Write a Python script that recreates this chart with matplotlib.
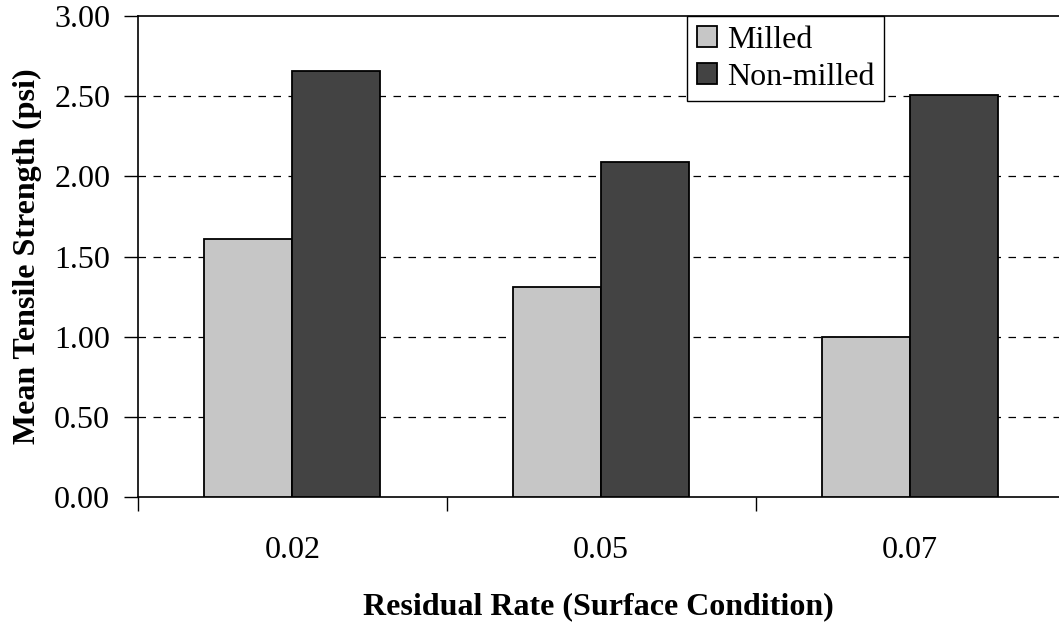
import numpy as np
import matplotlib.pyplot as plt
from matplotlib.ticker import FixedLocator, NullFormatter

# residual rate groups and mean tensile strength (psi)
rates = ["0.02", "0.05", "0.07"]
milled = [1.61, 1.31, 1.00]
non_milled = [2.66, 2.09, 2.51]
yticks = [0.0, 0.5, 1.0, 1.5, 2.0, 2.5, 3.0]

plt.rcParams["font.family"] = ["Liberation Serif", "DejaVu Serif"]

fig = plt.figure(figsize=(10.59, 6.25), dpi=100)
# left 138 px, bottom 497 px, top 16 px; the right side runs off the figure
ax = fig.add_axes([138 / 1059, (625 - 497) / 625, (1059 - 138) / 1059, (497 - 16) / 625])

x = np.arange(len(rates))
w = 0.285
ax.bar(x - w / 2, milled, w, color="#c6c6c6", edgecolor="black", linewidth=1.3,
       label="Milled", zorder=3)
ax.bar(x + w / 2, non_milled, w, color="#434343", edgecolor="black", linewidth=1.3,
       label="Non-milled", zorder=3)

ax.set_xlim(-0.5, 2 + 149 / 309)
ax.set_ylim(0, 3)

# dashed grid at every 0.5 below the top border
for y in yticks[1:-1]:
    ax.axhline(y, color="black", linestyle=(0, (6, 6)), linewidth=0.9, zorder=1)

ax.set_yticks(yticks)
ax.set_yticklabels(["%.2f" % v for v in yticks], fontsize=23)
ax.tick_params(axis="y", direction="out", length=10, width=1, pad=10)

# category separators as major ticks, labels on minor ticks at group centres
ax.xaxis.set_major_locator(FixedLocator([-0.5, 0.5, 1.5]))
ax.xaxis.set_major_formatter(NullFormatter())
ax.xaxis.set_minor_locator(FixedLocator(x))
ax.set_xticklabels(rates, minor=True, fontsize=23)
ax.tick_params(axis="x", which="major", direction="out", length=10, width=1)
ax.tick_params(axis="x", which="minor", length=0, pad=28)

ax.spines["right"].set_visible(False)
for s in ["left", "top", "bottom"]:
    ax.spines[s].set_linewidth(1.2)

ax.set_ylabel("Mean Tensile Strength (psi)", fontsize=23, fontweight="bold", labelpad=9)
ax.set_xlabel("Residual Rate (Surface Condition)", fontsize=23, fontweight="bold", labelpad=20)

leg = ax.legend(loc="upper left", bbox_to_anchor=((687 - 138) / 921, 1.0), fontsize=23,
                frameon=True, fancybox=False, framealpha=1.0, handlelength=0.65,
                handleheight=0.65, handletextpad=0.3, borderpad=0.3, labelspacing=0.25,
                borderaxespad=0)
leg.get_frame().set_edgecolor("black")
leg.get_frame().set_linewidth(1.0)
leg.set_zorder(5)

fig.savefig("out.png", dpi=100)
